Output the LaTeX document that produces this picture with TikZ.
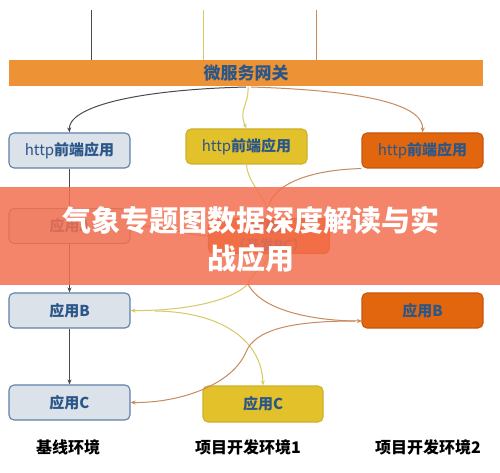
\documentclass[tikz,border=0pt]{standalone}
\usepackage{fontspec}
\setmainfont{Noto Sans CJK SC}
\usetikzlibrary{arrows.meta}
\definecolor{lightfill}{HTML}{DCE2EA}
\definecolor{lightdraw}{HTML}{5E80A8}
\definecolor{yelfill}{HTML}{E2C12B}
\definecolor{yeldraw}{HTML}{CFB02A}
\definecolor{orgfill}{HTML}{E2660E}
\definecolor{orgdraw}{HTML}{C7560B}
\definecolor{gwfill}{HTML}{EE9236}
\definecolor{txtblue}{HTML}{2B5688}
\definecolor{darkline}{HTML}{4A4A4A}
\definecolor{yelline}{HTML}{D9C864}
\definecolor{orgline}{HTML}{C98A5E}
\definecolor{banner}{HTML}{F47050}
\tikzset{
  appbox/.style={rounded corners=5pt, line width=1.1pt, minimum width=121pt, minimum height=35pt, inner sep=0pt, font=\fontsize{15}{17}\selectfont\bfseries, text=txtblue},
  lightbox/.style={appbox, fill=lightfill, draw=lightdraw},
  yelbox/.style={appbox, fill=yelfill, draw=yeldraw},
  orgbox/.style={appbox, fill=orgfill, draw=orgdraw},
  envlabel/.style={font=\fontsize{16}{18}\selectfont\bfseries, text=black},
  arr/.style={-{Stealth[length=5pt,width=4pt]}},
  dk/.style={draw=darkline, line width=1pt},
  yl/.style={draw=yelline, line width=1pt},
  og/.style={draw=orgline, line width=1pt}
}
\begin{document}
\begin{tikzpicture}[x=1pt,y=-1pt]
\useasboundingbox (0,0) rectangle (500,473);
\fill[white] (0,0) rectangle (500,473);
% top lines
\coordinate (t1) at (91,10);
\coordinate (t2) at (203,10);
\coordinate (t3) at (316,10);
\coordinate (b1) at (91,60);
\coordinate (b2) at (203,60);
\coordinate (b3) at (316,66);
\draw[dk] (t1) -- (b1);
\draw[yl] (t2) -- (b2);
\draw[og] (t3) -- (b3);
% gateway
\node[fill=gwfill, minimum width=474pt, minimum height=26pt, inner sep=0pt, font=\fontsize{17}{18}\selectfont\bfseries, text=txtblue] (gw) at (246,73) {微服务网关};
\coordinate (g1) at (246,87);
\coordinate (g2) at (248,87);
\coordinate (g3) at (251,87);
% row 1
\node[lightbox] (httpL) at (69.5,150.5) {{\mdseries http}前端应用};
\node[yelbox] (httpM) at (246.5,146.5) {{\mdseries http}前端应用};
\node[orgbox] (httpR) at (422.5,150.5) {{\mdseries http}前端应用};
% row 2 (under banner)
\node[lightbox] (AL) at (69.5,226) {应用A};
\node[orgbox, align=center, font=\fontsize{14}{18}\selectfont\bfseries] (AM) at (269,236) {应用A\\（开发PC）};
% row 3
\node[lightbox] (BL) at (69.5,310.5) {应用B};
\node[orgbox] (BR) at (422.5,310.5) {应用B};
% row 4
\node[lightbox] (CL) at (69.5,402.5) {应用C};
\node[yelbox, minimum width=120pt, minimum height=36pt] (CM) at (263,404) {应用C};
% labels
\node[envlabel] (e1) at (68,447) {基线环境};
\node[envlabel] (e2) at (248,447) {项目开发环境1};
\node[envlabel] (e3) at (428,447) {项目开发环境2};
% gateway connectors
\draw[dk, arr] (g1) .. controls (130,90) and (68,108) .. (httpL.north);
\draw[yl, arr] (g2) .. controls (249,105) and (238,110) .. (httpM.north);
\draw[og, arr] (g3) .. controls (380,91) and (424,108) .. (httpR.north);
% left column
\draw[dk] (httpL.south) -- (AL.north);
\draw[dk, arr] (AL.south) -- (BL.north);
\draw[dk, arr] (BL.south) -- (CL.north);
% lines hidden under banner
\coordinate (m1) at (248,284);
\draw[yl] (httpM.south) .. controls (248,185) and (268,198) .. (AM.north);
\draw[og] (httpR.south west) .. controls (300,170) and (262,190) .. (AM.north);
\draw[og] (AL.east) .. controls (170,226) and (190,236) .. (AM.west);
\draw[yl] (AM.south) .. controls (266,268) and (250,274) .. (m1);
% yellow from middle
\coordinate (y1) at (155,311);
\draw[yl, arr] (m1) .. controls (228,304) and (175,311) .. (BL.east);
\draw[yl, arr] (y1) .. controls (228,312) and (262,345) .. (CM.north);
% orange
\coordinate (o1) at (355,321);
\coordinate (o2) at (246,352);
\coordinate (o3) at (362,321);
\draw[og, arr] (m1) .. controls (262,312) and (318,321) .. (o3);
\draw[og] (o1) .. controls (290,321) and (255,330) .. (o2);
\draw[og, arr] (o2) .. controls (232,385) and (180,403) .. (CL.east);
% banner
\fill[banner, opacity=0.85] (0,187) rectangle (500,285);
\node[align=center, text=white, font=\fontsize{29}{38}\selectfont\bfseries] (title) at (251,239) {气象专题图数据深度解读与实\\战应用};
\end{tikzpicture}
\end{document}
